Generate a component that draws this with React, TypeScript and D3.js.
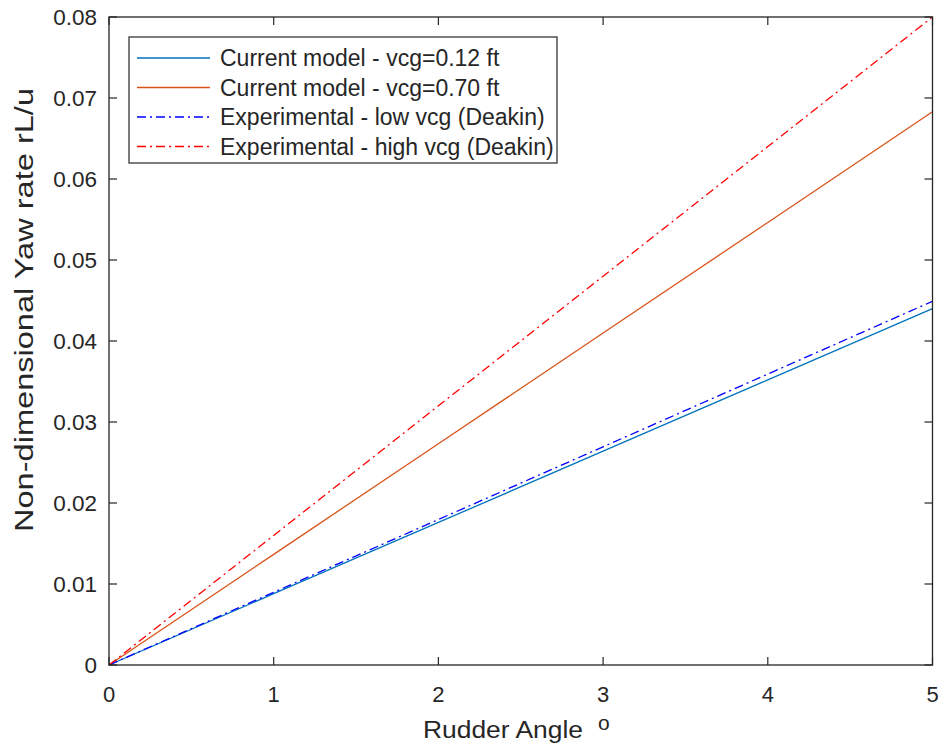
import React from "react";
import * as d3 from "d3";

const rudderAngles = [0, 1, 2, 3, 4, 5];
const modelLowVcg = [0, 0.0088, 0.0176, 0.0264, 0.0352, 0.044];
const modelHighVcg = [0, 0.01366, 0.02732, 0.04098, 0.05464, 0.0683];
const expLowVcg = [0, 0.00898, 0.01796, 0.02694, 0.03592, 0.0449];
const expHighVcg = [0, 0.016, 0.032, 0.048, 0.064, 0.08];

const seriesNames = [
  "Current model - vcg=0.12 ft",
  "Current model - vcg=0.70 ft",
  "Experimental - low vcg (Deakin)",
  "Experimental - high vcg (Deakin)",
];
const seriesValues = [modelLowVcg, modelHighVcg, expLowVcg, expHighVcg];
const seriesColors = ["#0072BD", "#D95319", "#0000FF", "#FF0000"];
const seriesDash = [null, null, "9,4,2,4", "9,4,2,4"];

const xTicks = [0, 1, 2, 3, 4, 5];
const yTicks = [0, 0.01, 0.02, 0.03, 0.04, 0.05, 0.06, 0.07, 0.08];

const W = 943;
const H = 754;
const L = 109;
const R = 932.5;
const T = 17;
const B = 665;
const axisColor = "#262626";
const font = "'Liberation Sans', Arial, Helvetica, sans-serif";

export default function App() {
  const x = d3.scaleLinear().domain([0, 5]).range([L, R]);
  const y = d3.scaleLinear().domain([0, 0.08]).range([B, T]);
  const line = d3
    .line<number>()
    .x((_, i) => x(rudderAngles[i]))
    .y((d) => y(d));
  const tickLen = 8;
  const fmtY = (v: number) => (v === 0 ? "0" : v.toFixed(2));

  const legendX0 = 129;
  const legendY0 = 37;
  const legendW = 428;
  const legendH = 126;
  const rowY = [58, 87.5, 117, 146.5];

  return (
    <svg
      width={W}
      height={H}
      style={{ position: "absolute", left: 0, top: 0, background: "#fff" }}
      fontFamily={font}
    >
      <rect x={0} y={0} width={W} height={H} fill="#fff" />
      {/* data lines */}
      <g fill="none">
        {seriesValues.map((vals, i) => (
          <path
            key={i}
            d={line(vals) || ""}
            stroke={seriesColors[i]}
            strokeWidth={1.3}
            strokeDasharray={seriesDash[i] || undefined}
          />
        ))}
      </g>
      {/* axes box */}
      <rect
        x={L}
        y={T}
        width={R - L}
        height={B - T}
        fill="none"
        stroke={axisColor}
        strokeWidth={1.3}
      />
      {/* x ticks */}
      {xTicks.map((t) => (
        <g key={"xt" + t}>
          <line x1={x(t)} x2={x(t)} y1={B} y2={B - tickLen} stroke={axisColor} strokeWidth={1.2} />
          <line x1={x(t)} x2={x(t)} y1={T} y2={T + tickLen} stroke={axisColor} strokeWidth={1.2} />
          <text x={x(t)} y={702} textAnchor="middle" fontSize={22} fill={axisColor}>
            {t}
          </text>
        </g>
      ))}
      {/* y ticks */}
      {yTicks.map((t) => (
        <g key={"yt" + t}>
          <line x1={L} x2={L + tickLen} y1={y(t)} y2={y(t)} stroke={axisColor} strokeWidth={1.2} />
          <line x1={R} x2={R - tickLen} y1={y(t)} y2={y(t)} stroke={axisColor} strokeWidth={1.2} />
          <text x={97} y={y(t)} dy="0.36em" textAnchor="end" fontSize={22.5} fill={axisColor}>
            {fmtY(t)}
          </text>
        </g>
      ))}
      {/* axis labels */}
      <text
        x={423}
        y={738}
        fontSize={23}
        fill={axisColor}
        textLength={160}
        lengthAdjust="spacingAndGlyphs"
      >
        Rudder Angle
      </text>
      <text x={598} y={730} fontSize={21} fill={axisColor}>
        o
      </text>
      <text
        transform={`translate(33,310) rotate(-90)`}
        textAnchor="middle"
        fontSize={26}
        fill={axisColor}
        textLength={444}
        lengthAdjust="spacingAndGlyphs"
      >
        Non-dimensional Yaw rate rL/u
      </text>
      {/* legend */}
      <rect
        x={legendX0}
        y={legendY0}
        width={legendW}
        height={legendH}
        fill="#fff"
        stroke={axisColor}
        strokeWidth={1.2}
      />
      {seriesNames.map((name, i) => (
        <g key={"lg" + i}>
          <line
            x1={137}
            x2={210}
            y1={rowY[i]}
            y2={rowY[i]}
            stroke={seriesColors[i]}
            strokeWidth={1.3}
            strokeDasharray={seriesDash[i] || undefined}
          />
          <text x={220} y={rowY[i]} dy="0.36em" fontSize={23} fill={axisColor}>
            {name}
          </text>
        </g>
      ))}
    </svg>
  );
}
